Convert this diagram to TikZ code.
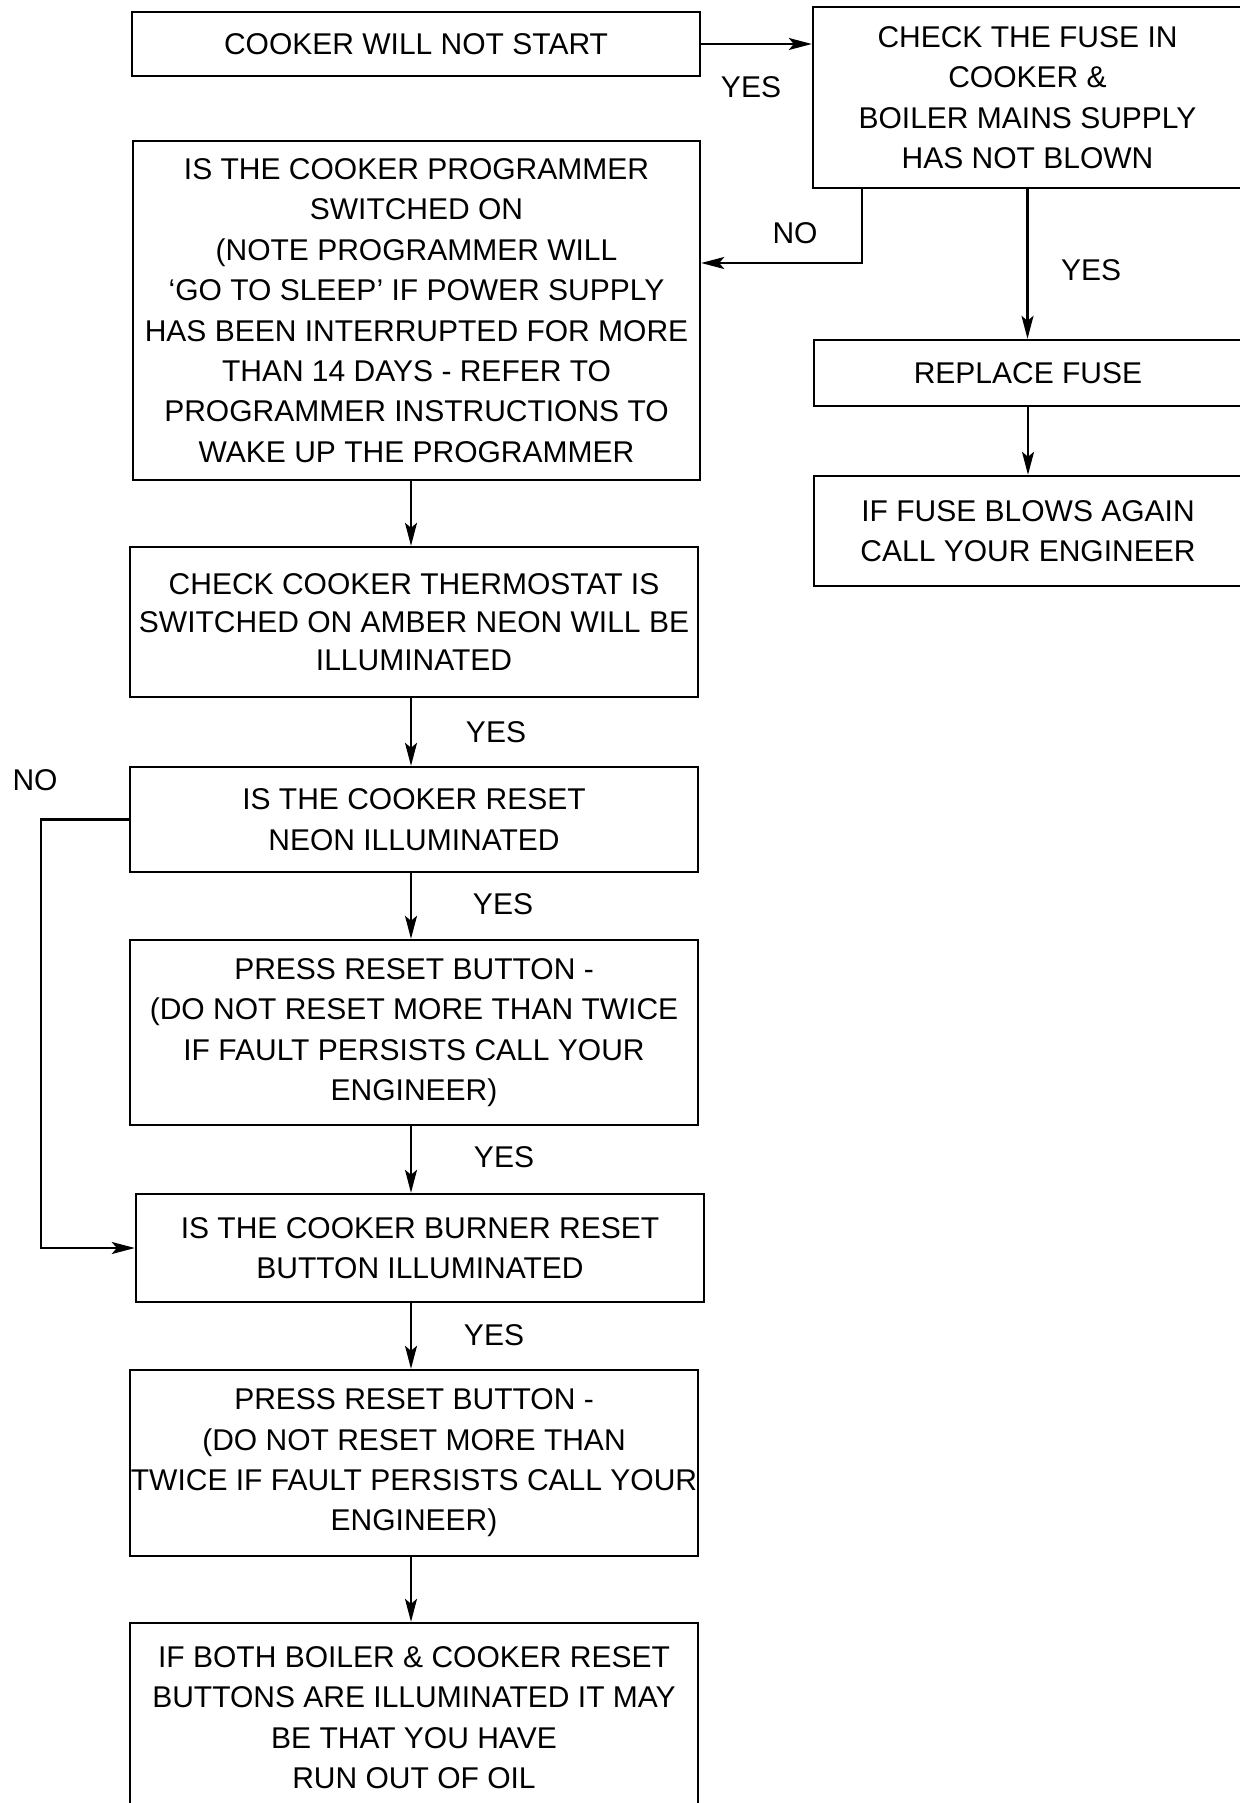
\documentclass[tikz,border=0pt]{standalone}
\usepackage{fontspec}
\setmainfont{Liberation Sans}
\usetikzlibrary{arrows.meta}
\tikzset{
  box/.style={draw, line width=1.2pt, inner sep=0pt, align=center, minimum width=284pt},
  lbl/.style={inner sep=0pt},
  flow/.style={line width=1.1pt, -{Stealth[length=11.5pt,width=6pt,inset=2.5pt]}},
}
\begin{document}
\begin{tikzpicture}[x=0.5pt,y=-0.5pt,font=\fontsize{15}{20.2}\selectfont]
\useasboundingbox (0,0) rectangle (1240,1803);
% left column
\node[box, minimum height=32pt] (start) at (416,44) {COOKER WILL NOT START};
\node[box, minimum width=283.5pt, minimum height=169.5pt] (prog) at (416.5,310.5) {IS THE COOKER PROGRAMMER\\SWITCHED ON\\(NOTE PROGRAMMER WILL\\`GO TO SLEEP' IF POWER SUPPLY\\HAS BEEN INTERRUPTED FOR MORE\\THAN 14 DAYS - REFER TO\\PROGRAMMER INSTRUCTIONS TO\\WAKE UP THE PROGRAMMER};
\node[box, minimum height=75pt, font=\fontsize{15}{19}\selectfont] (thermo) at (414,622) {CHECK COOKER THERMOSTAT IS\\SWITCHED ON AMBER NEON WILL BE\\ILLUMINATED};
\node[box, minimum height=52.5pt] (neon) at (414,819.5) {IS THE COOKER RESET\\NEON ILLUMINATED};
\node[box, minimum height=92.5pt] (press) at (414,1032.5) {PRESS RESET BUTTON -\\(DO NOT RESET MORE THAN TWICE\\IF FAULT PERSISTS CALL YOUR\\ENGINEER)};
\node[box, minimum height=54pt] (burner) at (420,1248) {IS THE COOKER BURNER RESET\\BUTTON ILLUMINATED};
\node[box, minimum height=93pt] (presstwo) at (414,1463) {PRESS RESET BUTTON -\\(DO NOT RESET MORE THAN\\TWICE IF FAULT PERSISTS CALL YOUR\\ENGINEER)};
\node[box, minimum height=94.5pt] (oil) at (414,1717.5) {IF BOTH BOILER \& COOKER RESET\\BUTTONS ARE ILLUMINATED IT MAY\\BE THAT YOU HAVE\\RUN OUT OF OIL};
% right column
\node[box, minimum width=214.5pt, minimum height=90.5pt] (fuse) at (1027.5,97.5) {CHECK THE FUSE IN\\COOKER \&\\BOILER MAINS SUPPLY\\HAS NOT BLOWN};
\node[box, minimum width=214pt, minimum height=33pt] (replace) at (1028,373) {REPLACE FUSE};
\node[box, minimum width=214pt, minimum height=55pt] (blows) at (1028,531) {IF FUSE BLOWS AGAIN\\CALL YOUR ENGINEER};
% labels
\foreach \n/\x/\y/\t in {ystart/751/87/YES, nfuse/795/233/NO, yfuse/1091/270/YES,
  ythermo/496/732/YES, nneon/35/780/NO, yneon/503/904/YES, ypress/504/1157/YES,
  yburner/494/1335/YES}
  \node[lbl] (\n) at (\x,\y) {\t};
% connectors
\coordinate (spine) at (411,0);
\coordinate (noturn) at (862,263);
\coordinate (loopl) at (41,819.5);
\draw[flow] (start.east) -- (start.east -| fuse.west);
\draw[flow] (noturn |- fuse.south) -- (noturn) -- (noturn -| prog.east);
\draw[flow] (fuse.south) -- (fuse.south |- replace.north);
\draw[flow] (replace.south) -- (replace.south |- blows.north);
\foreach \a/\b in {prog/thermo, thermo/neon, neon/press, press/burner, burner/presstwo, presstwo/oil}
  \draw[flow] (\a.south -| spine) -- (\b.north -| spine);
\draw[flow] (neon.west) -- (loopl) -- (loopl |- burner.west) -- (burner.west);
\end{tikzpicture}
\end{document}
